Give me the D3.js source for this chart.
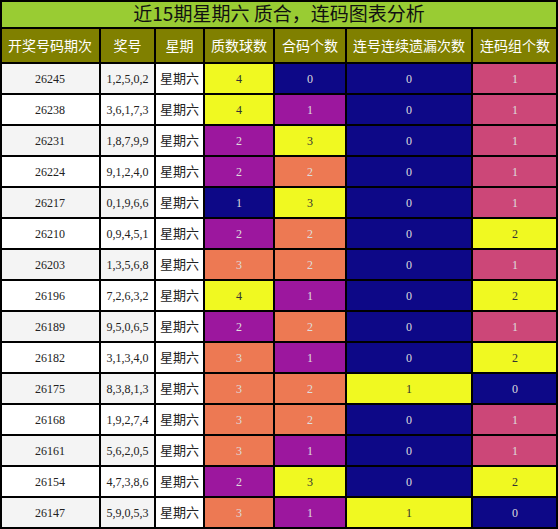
<!DOCTYPE html><html><head><meta charset="utf-8"><script src="https://cdn.jsdelivr.net/npm/d3@7"></script>
<style>body{margin:0;background:#fff}</style></head><body><svg id="c" width="558" height="529"></svg>
<script>
const title="近15期星期六 质合，连码图表分析";
const headers=["开奖号码期次","奖号","星期","质数球数","合码个数","连号连续遗漏次数","连码组个数"];
const issues=["26245","26238","26231","26224","26217","26210","26203","26196","26189","26182","26175","26168","26161","26154","26147"];
const numbers=["1,2,5,0,2","3,6,1,7,3","1,8,7,9,9","9,1,2,4,0","0,1,9,6,6","0,9,4,5,1","1,3,5,6,8","7,2,6,3,2","9,5,0,6,5","3,1,3,4,0","8,3,8,1,3","1,9,2,7,4","5,6,2,0,5","4,7,3,8,6","5,9,0,5,3"];
const weekday="星期六";
const primeCount=[4,4,2,2,1,2,3,4,2,3,3,3,3,2,3];
const compositeCount=[0,1,3,2,3,2,2,1,2,1,2,2,1,3,1];
const missCount=[0,0,0,0,0,0,0,0,0,0,1,0,0,0,1];
const groupCount=[1,1,1,1,1,2,1,2,1,2,0,1,1,2,0];
const edges=[0,100,155,204,274,346,472,558];
const svg=d3.select("#c");
const W=558;
svg.append("rect").attr("x",0).attr("y",0).attr("width",W).attr("height",28).attr("fill","#99cc33");
svg.append("text").attr("x",W/2).attr("y",21).attr("text-anchor","middle").attr("font-family","Noto Sans CJK SC").attr("font-size",19).attr("fill","#111").text(title);
const y=d3.scaleBand().domain(d3.range(15)).range([63,528]);
const cols=[issues,numbers,issues.map(()=>weekday),primeCount,compositeCount,missCount,groupCount];
headers.forEach((h,i)=>{
 svg.append("rect").attr("x",edges[i]).attr("y",28).attr("width",edges[i+1]-edges[i]).attr("height",35).attr("fill","#808000");
 svg.append("text").attr("x",(edges[i]+edges[i+1])/2).attr("y",51).attr("text-anchor","middle").attr("font-family","Noto Sans CJK SC").attr("font-size",14).attr("fill","#fff").text(h);
});
cols.forEach((arr,ci)=>{
 let color=null;
 if(ci>=3){const e=d3.extent(arr);color=d3.scaleSequential(d3.interpolatePlasma).domain(e);}
 arr.forEach((v,ri)=>{
  let fill=color?color(v):(ci==2?"#fff":(ri%2==0?"#f4f4f4":"#fff"));
  svg.append("rect").attr("x",edges[ci]).attr("y",y(ri)).attr("width",edges[ci+1]-edges[ci]).attr("height",y.bandwidth()).attr("fill",fill);
  let tc="#222";
  if(color){const c=d3.hsl(fill);tc=d3.lab(fill).l>80?"#333":"#ddd";}
  svg.append("text").attr("x",(edges[ci]+edges[ci+1])/2).attr("y",y(ri)+y.bandwidth()/2+4.5)
   .attr("text-anchor","middle").attr("font-family",ci==2?"Noto Sans CJK SC":"Liberation Serif")
   .attr("font-size",ci==2?13:12).attr("fill",tc).text(v);
 });
});
const g=svg.append("g").attr("stroke","#000").attr("stroke-width",2);
[28,63,...d3.range(1,15).map(i=>y(i)),528].forEach(v=>g.append("line").attr("x1",0).attr("x2",W).attr("y1",v).attr("y2",v));
edges.slice(1,-1).forEach(v=>g.append("line").attr("x1",v).attr("x2",v).attr("y1",28).attr("y2",528));
g.append("rect").attr("x",1).attr("y",1).attr("width",W-2).attr("height",527).attr("fill","none");
</script></body></html>
